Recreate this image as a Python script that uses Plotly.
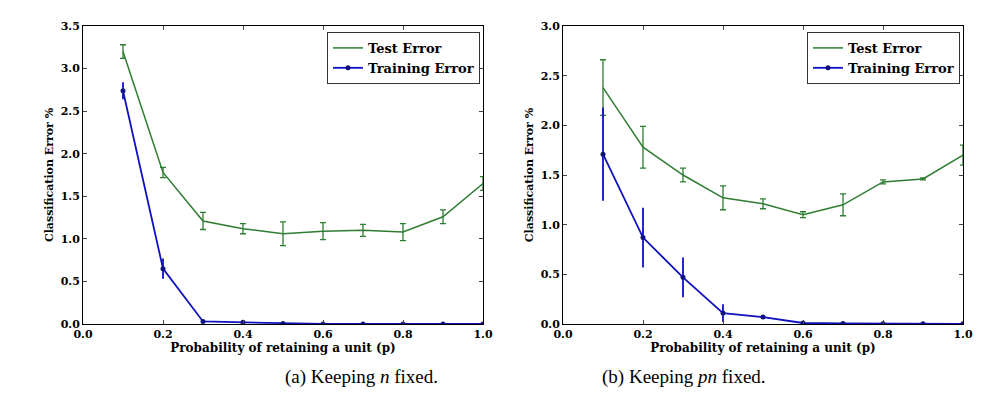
import plotly.graph_objects as go
from plotly.subplots import make_subplots

p = [0.1, 0.2, 0.3, 0.4, 0.5, 0.6, 0.7, 0.8, 0.9, 1.0]

# (a) keeping n fixed
test_a = [3.2, 1.78, 1.21, 1.12, 1.06, 1.09, 1.10, 1.08, 1.26, 1.65]
test_a_err = [0.08, 0.06, 0.10, 0.06, 0.14, 0.10, 0.07, 0.10, 0.08, 0.08]
train_a = [2.74, 0.65, 0.03, 0.02, 0.005, 0.0, 0.0, 0.0, 0.0, 0.0]
train_a_err = [0.10, 0.12, 0.01, 0.01, 0.0, 0.0, 0.0, 0.0, 0.0, 0.0]

# (b) keeping pn fixed
test_b = [2.38, 1.78, 1.50, 1.27, 1.21, 1.10, 1.20, 1.43, 1.46, 1.70]
test_b_err = [0.28, 0.21, 0.07, 0.12, 0.05, 0.03, 0.11, 0.02, 0.01, 0.10]
train_b = [1.71, 0.87, 0.47, 0.11, 0.07, 0.01, 0.005, 0.003, 0.002, 0.002]
train_b_err = [0.47, 0.30, 0.20, 0.09, 0.01, 0.0, 0.0, 0.0, 0.0, 0.0]

GREEN = "#2e7d32"
BLUE = "#1010c0"
FONT = "DejaVu Serif"
CAPFONT = "Liberation Serif"

fig = make_subplots(rows=1, cols=2)

panels = [(test_a, test_a_err, train_a, train_a_err, 3.5),
          (test_b, test_b_err, train_b, train_b_err, 3.0)]

for i, (te, tee, tr, tre, ymax) in enumerate(panels, start=1):
    leg = "legend" if i == 1 else "legend2"
    fig.add_trace(go.Scatter(
        x=p, y=te, mode="lines", name="<b>Test Error</b>",
        line=dict(color=GREEN, width=1.5),
        error_y=dict(type="data", array=tee, color=GREEN, thickness=1.3, width=3),
        legend=leg,
    ), row=1, col=i)
    fig.add_trace(go.Scatter(
        x=p, y=tr, mode="lines+markers", name="<b>Training Error</b>",
        line=dict(color=BLUE, width=1.8), marker=dict(color="#101080", size=5),
        error_y=dict(type="data", array=tre, color=BLUE, thickness=1.8, width=0),
        legend=leg,
    ), row=1, col=i)
    fig.update_xaxes(range=[0, 1], dtick=0.2, tickformat=".1f", ticks="inside",
                     mirror="ticks", showline=True, linecolor="black", showgrid=False,
                     zeroline=False, ticklen=4, automargin=False,
                     title=dict(text="<b>Probability of retaining a unit (p)</b>",
                                standoff=2, font=dict(size=12)),
                     row=1, col=i)
    fig.update_yaxes(range=[0, ymax], dtick=0.5, tickformat=".1f", ticks="inside",
                     mirror="ticks", showline=True, linecolor="black", showgrid=False,
                     zeroline=False, ticklen=4, automargin=False,
                     title=dict(text="<b>Classification Error %</b>", standoff=4,
                                font=dict(size=11)),
                     row=1, col=i)

fig.update_layout(xaxis=dict(domain=[0.075, 0.475]), xaxis2=dict(domain=[0.555, 0.955]))

legend_style = dict(bgcolor="white", bordercolor="#333", borderwidth=1,
                    font=dict(family=FONT, size=13, color="black"),
                    xanchor="right", yanchor="top", y=0.98)

fig.update_layout(
    width=1000, height=417,
    margin=dict(l=0, r=0, t=18, b=101),
    plot_bgcolor="white", paper_bgcolor="white",
    font=dict(family=FONT, size=12, color="black"),
    legend=dict(x=0.472, **legend_style),
    legend2=dict(x=0.952, **legend_style),
    annotations=[
        dict(text="(a) Keeping <i>n</i> fixed.", x=0.275, y=-0.22, xref="paper",
             yref="paper", showarrow=False, font=dict(size=19, family=CAPFONT)),
        dict(text="(b) Keeping <i>pn</i> fixed.", x=0.76, y=-0.22, xref="paper",
             yref="paper", showarrow=False, font=dict(size=19, family=CAPFONT)),
    ],
)
fig.update_xaxes(tickfont=dict(size=11, family=FONT, weight="bold"))
fig.update_yaxes(tickfont=dict(size=11, family=FONT, weight="bold"))

fig.write_html("out.html")
